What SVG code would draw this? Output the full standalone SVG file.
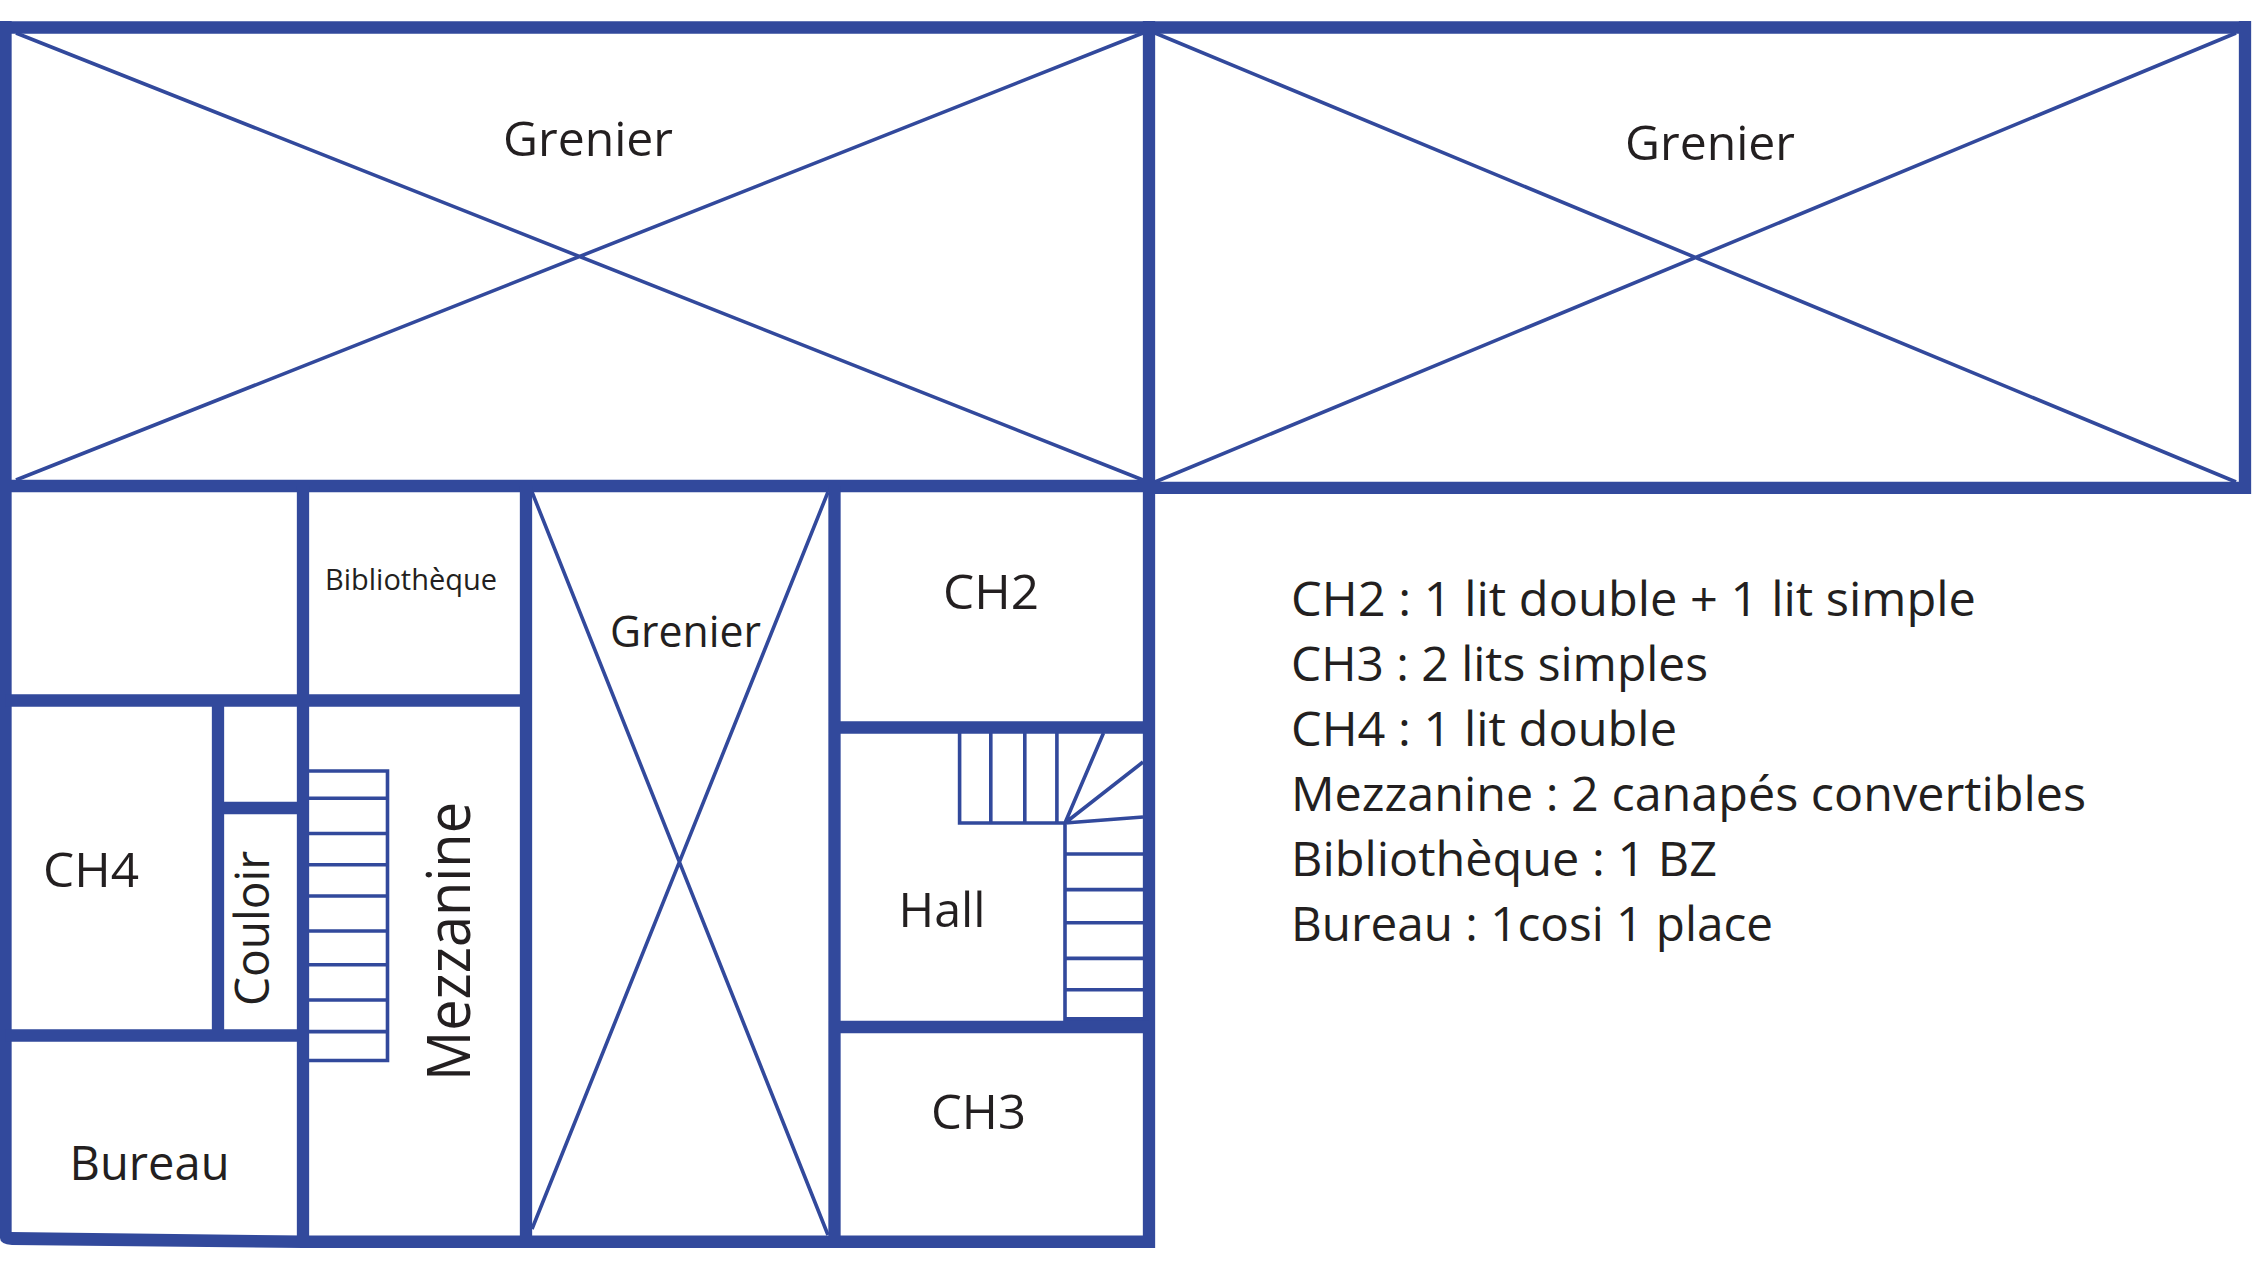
<svg xmlns="http://www.w3.org/2000/svg" width="2254" height="1271" viewBox="0 0 2254 1271">
<style>
.w{stroke:#32499c;stroke-width:12.300;fill:none}
.f{fill:#32499c}
.t{stroke:#32499c;stroke-width:3.600;fill:none}
text{font-family:"Open Sans","Noto Sans","Liberation Sans",sans-serif;fill:#231f20}
</style>
<rect width="2254" height="1271" fill="#fff"/>
<g id="roof-lines">
<path class="t" d="M16 33L1143 480M16 480L1143 33M1155 33L2236 482M1155 482L2236 33M532 492L828 1235M828 492L532 1229"/>
</g>
<g id="stairs">
<path class="t" d="M309 771H387.500V1060.500H309M309 798.300H388M309 833.500H388M309 864.700H388M309 896H388M309 931H388M309 964.800H388M309 1000H388M309 1031.600H388"/>
<path class="t" d="M959.600 733V823H1065V1021M990.800 733V823M1024.800 733V823M1056.900 733V823M1065 823L1103.500 733M1065 823L1143 762M1065 823L1143 817M1065 854H1143M1065 889.600H1143M1065 922.800H1143M1065 958.400H1143M1065 989.700H1143"/>
<path class="f" d="M1065 1017H1143V1025H1065Z"/>
</g>
<g id="walls">
<path class="w" d="M5.500 21V1238M0 27.500H2251M2245 21V494M0 486H1149M1149 21V1248M1149 487.800H2251"/>
<path class="f" d="M0 1232H11L303 1235.500H1155V1248H303L12 1245Q0 1244 0 1238Z"/>
<path class="w" d="M303 486V1241M526 486V1241M834.500 486V1241M218 700.500V1035.500M5.500 700.500H526M218 808H303M5.500 1035.500H303M834.500 727.500H1149M834.500 1027H1149"/>
</g>
<g id="labels">
<text x="503" y="156" font-size="48" textLength="170" lengthAdjust="spacingAndGlyphs">Grenier</text>
<text x="1625" y="160" font-size="48" textLength="170" lengthAdjust="spacingAndGlyphs">Grenier</text>
<text x="325" y="590" font-size="29" textLength="172" lengthAdjust="spacingAndGlyphs">Bibliothèque</text>
<text x="610" y="646.500" font-size="44" textLength="151" lengthAdjust="spacingAndGlyphs">Grenier</text>
<text x="943" y="609" font-size="48" textLength="96" lengthAdjust="spacingAndGlyphs">CH2</text>
<text x="43" y="887" font-size="48" textLength="96" lengthAdjust="spacingAndGlyphs">CH4</text>
<text x="69.500" y="1180" font-size="48" textLength="160" lengthAdjust="spacingAndGlyphs">Bureau</text>
<text x="898.500" y="927" font-size="48" textLength="87" lengthAdjust="spacingAndGlyphs">Hall</text>
<text x="931" y="1128.500" font-size="48" textLength="95" lengthAdjust="spacingAndGlyphs">CH3</text>
<text transform="translate(269 1006) rotate(-90)" font-size="47" textLength="155" lengthAdjust="spacingAndGlyphs">Couloir</text>
<text transform="translate(469.500 1081) rotate(-90)" font-size="60" textLength="279" lengthAdjust="spacingAndGlyphs">Mezzanine</text>
</g>
<g id="legend">
<text x="1291" y="616" font-size="47" textLength="685" lengthAdjust="spacingAndGlyphs">CH2 : 1 lit double + 1 lit simple</text>
<text x="1291" y="681" font-size="47" textLength="417" lengthAdjust="spacingAndGlyphs">CH3 : 2 lits simples</text>
<text x="1291" y="746" font-size="47" textLength="386" lengthAdjust="spacingAndGlyphs">CH4 : 1 lit double</text>
<text x="1291" y="811" font-size="47" textLength="795" lengthAdjust="spacingAndGlyphs">Mezzanine : 2 canapés convertibles</text>
<text x="1291" y="876" font-size="47" textLength="426" lengthAdjust="spacingAndGlyphs">Bibliothèque : 1 BZ</text>
<text x="1291" y="941" font-size="47" textLength="482" lengthAdjust="spacingAndGlyphs">Bureau : 1cosi 1 place</text>
</g>
</svg>
